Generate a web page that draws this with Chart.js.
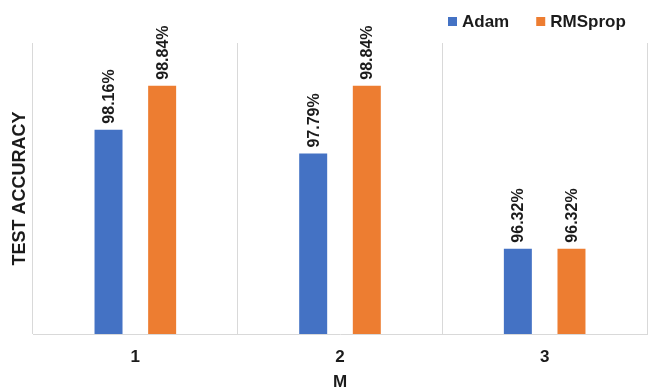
<!DOCTYPE html>
<html>
<head>
<meta charset="utf-8">
<title>Test accuracy by optimizer</title>
<script src="https://cdn.jsdelivr.net/npm/chart.js@4.4.1/dist/chart.umd.min.js"></script>
<style>
  html, body { margin: 0; padding: 0; background: #ffffff; }
  #wrap { width: 657px; height: 391px; }
</style>
</head>
<body>
<div id="wrap"><canvas id="chart" width="657" height="391"></canvas></div>
<script>
// Data
const categories = ['1', '2', '3'];
const seriesNames = ['Adam', 'RMSprop'];
const adamAccuracy = [98.16, 97.79, 96.32];
const rmspropAccuracy = [98.84, 98.84, 96.32];
const yAxisMin = 95;
const yAxisMax = 99.5;

const FONT = '"Liberation Sans", Arial, Helvetica, sans-serif';
const TEXT = '#1b1b1b';
const COLORS = ['#4472C4', '#ED7D31'];

// Rotated value labels above every bar
const valueLabels = {
  id: 'valueLabels',
  afterDatasetsDraw(chart) {
    const ctx = chart.ctx;
    ctx.save();
    ctx.font = 'bold 16px ' + FONT;
    ctx.fillStyle = TEXT;
    ctx.textAlign = 'left';
    ctx.textBaseline = 'middle';
    chart.data.datasets.forEach((ds, di) => {
      const meta = chart.getDatasetMeta(di);
      meta.data.forEach((bar, i) => {
        const text = ds.data[i].toFixed(2) + '%';
        ctx.save();
        ctx.translate(bar.x + 1, bar.y - 6);
        ctx.rotate(-Math.PI / 2);
        ctx.fillText(text, 0, 0);
        ctx.restore();
      });
    });
    ctx.restore();
  }
};

// Legend in the top-right corner
const cornerLegend = {
  id: 'cornerLegend',
  afterDraw(chart) {
    const ctx = chart.ctx;
    ctx.save();
    ctx.font = 'bold 17px ' + FONT;
    ctx.textAlign = 'left';
    ctx.textBaseline = 'middle';
    let x = 448;
    const cy = 21.5;
    chart.data.datasets.forEach((ds) => {
      ctx.fillStyle = ds.backgroundColor;
      ctx.fillRect(x, cy - 4.5, 9, 9);
      x += 9 + 5;
      ctx.fillStyle = TEXT;
      ctx.fillText(ds.label, x, cy + 0.5);
      x += ctx.measureText(ds.label).width + 27;
    });
    ctx.restore();
  }
};

new Chart(document.getElementById('chart'), {
  type: 'bar',
  data: {
    labels: categories,
    datasets: [
      { label: seriesNames[0], data: adamAccuracy, backgroundColor: COLORS[0] },
      { label: seriesNames[1], data: rmspropAccuracy, backgroundColor: COLORS[1] }
    ]
  },
  options: {
    responsive: false,
    animation: false,
    devicePixelRatio: 1,
    categoryPercentage: 0.524,
    barPercentage: 0.522,
    layout: { padding: { top: 43, right: 10, bottom: 0, left: 7 } },
    plugins: {
      legend: { display: false },
      tooltip: { enabled: false }
    },
    scales: {
      x: {
        afterFit(scale) { scale.height = 57; },
        grid: { display: true, color: '#d9d9d9', lineWidth: 1, drawTicks: false, offset: true },
        border: { display: true, color: '#d9d9d9', width: 1 },
        ticks: { color: TEXT, font: { family: FONT, size: 17, weight: 'bold' }, padding: 13 },
        title: {
          display: true, text: 'M', color: TEXT,
          font: { family: FONT, size: 17, weight: 'bold', lineHeight: 1.0 },
          padding: { top: 0, bottom: 0 }
        }
      },
      y: {
        afterFit(scale) { scale.width = 26; },
        min: yAxisMin,
        max: yAxisMax,
        grid: { display: false },
        border: { display: false },
        ticks: { display: false },
        title: {
          display: true, text: 'TEST ACCURACY', color: TEXT,
          font: { family: FONT, size: 18, weight: 'bold', lineHeight: 1.0 },
          padding: { top: 4, bottom: 4 }
        }
      }
    }
  },
  plugins: [valueLabels, cornerLegend]
});
</script>
</body>
</html>
